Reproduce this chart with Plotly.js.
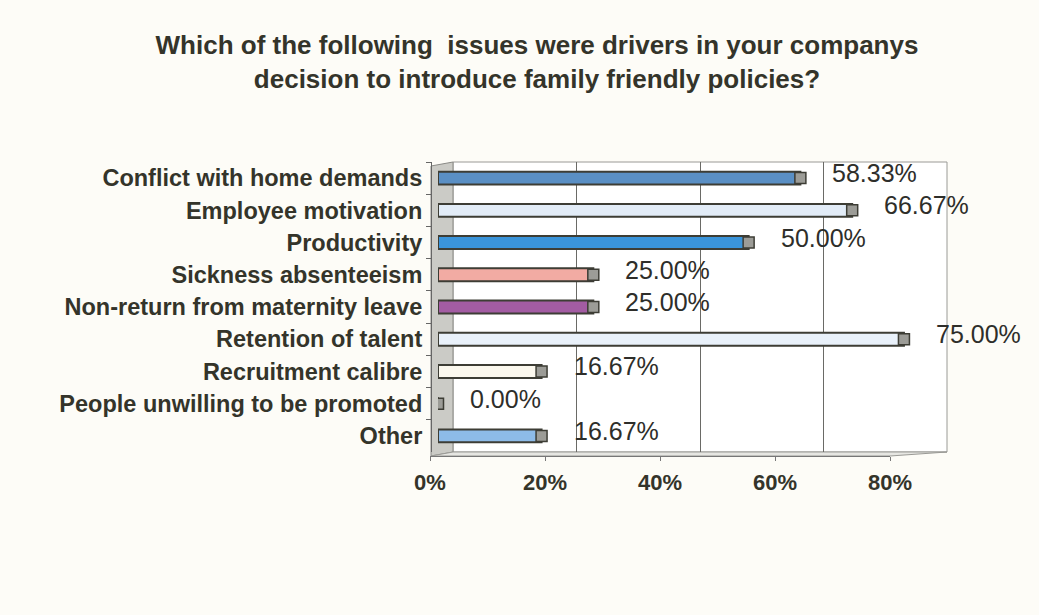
<!DOCTYPE html>
<html>
<head>
<meta charset="utf-8">
<script src="https://cdn.plot.ly/plotly-3.0.1.min.js"></script>
<style>
  html, body { margin: 0; padding: 0; background: #fdfcf7; }
  #chart { width: 1039px; height: 615px; }
</style>
</head>
<body>
<div id="chart"></div>
<script>
// Survey answers (share of companies)
const CATEGORIES = [
    'Conflict with home demands',
    'Employee motivation',
    'Productivity',
    'Sickness absenteeism',
    'Non-return from maternity leave',
    'Retention of talent',
    'Recruitment calibre',
    'People unwilling to be promoted',
    'Other'
];
const VALUES = [0.5833, 0.6667, 0.50, 0.25, 0.25, 0.75, 0.1667, 0.0, 0.1667];
const TICK_VALUES = [0, 0.2, 0.4, 0.6, 0.8];

// one fill per bar, like the old spreadsheet chart
const BAR_COLORS = ['#5a8fc4', '#e2ecf7', '#3a94da', '#f2aba3', '#a35ca3',
                    '#e9f1fa', '#fbf8ee', '#8a8a86', '#8dbbe8'];

const W = 1039, TOP = 162, BOTTOM = 456;
const px = x => x / W;
const py = y => (BOTTOM - y) / (BOTTOM - TOP);

const INK = '#34342a';
const FONT = 'Liberation Sans, Arial, sans-serif';

// invisible helper so an axis gets drawn
function ghost(xa) {
    return { type: 'scatter', mode: 'none', x: VALUES, y: CATEGORIES,
             xaxis: xa, yaxis: 'y', hoverinfo: 'skip' };
}

const traces = [
    ghost('x'),
    ghost('x3'),
    {
        type: 'bar',
        orientation: 'h',
        x: VALUES,
        y: CATEGORIES,
        xaxis: 'x2',
        yaxis: 'y',
        marker: {
            color: BAR_COLORS,
            line: { color: '#3d3d35', width: 2 }
        },
        hoverinfo: 'x+y'
    },
    // grey end faces of the 3-D bars
    {
        type: 'scatter',
        mode: 'markers',
        x: VALUES,
        y: CATEGORIES,
        xaxis: 'x2',
        yaxis: 'y',
        marker: {
            symbol: 'square',
            size: 11,
            color: '#9c9c97',
            line: { color: '#3d3d35', width: 1.5 }
        },
        hoverinfo: 'skip'
    }
];

const annotations = VALUES.map((v, i) => ({
    x: v,
    y: CATEGORIES[i],
    xref: 'x2',
    yref: 'y',
    text: (v * 100).toFixed(2) + '%',
    showarrow: false,
    xanchor: 'left',
    xshift: 30,
    yshift: 5,
    font: { family: FONT, size: 25, color: '#2e2e2a' }
}));

const layout = {
    width: W,
    height: 615,
    paper_bgcolor: '#fdfcf7',
    plot_bgcolor: 'rgba(0,0,0,0)',
    showlegend: false,
    bargap: 0.6,
    margin: { l: 0, r: 0, t: TOP, b: 615 - BOTTOM },
    title: {
        text: 'Which of the following  issues were drivers in your companys<br>decision to introduce family friendly policies?',
        x: 537 / W,
        xanchor: 'center',
        yref: 'container',
        y: 1 - 54 / 615,
        yanchor: 'top',
        font: { family: FONT, size: 26, color: INK, weight: 'bold' }
    },
    // back wall grid
    xaxis: {
        domain: [px(453), px(947)],
        range: [0, 0.8],
        anchor: 'y',
        tickvals: TICK_VALUES,
        showgrid: true,
        gridcolor: '#6a6a66',
        gridwidth: 1,
        showticklabels: false,
        zeroline: false,
        showline: false,
        ticks: ''
    },
    // bars
    xaxis2: {
        domain: [px(438), px(935)],
        range: [0, 0.8],
        anchor: 'y',
        showgrid: false,
        showticklabels: false,
        zeroline: false,
        showline: false,
        ticks: ''
    },
    // front axis with the percent labels
    xaxis3: {
        domain: [px(430), px(890)],
        range: [0, 0.8],
        anchor: 'free',
        position: 0,
        tickvals: TICK_VALUES,
        tickformat: '.0%',
        showgrid: false,
        zeroline: false,
        showline: true,
        linecolor: '#777',
        ticks: 'outside',
        ticklen: 4,
        tickcolor: '#777',
        ticklabelstandoff: 3,
        tickfont: { family: FONT, size: 22, color: INK, weight: 'bold' }
    },
    yaxis: {
        domain: [py(452), 1],
        type: 'category',
        range: [CATEGORIES.length - 0.5, -0.5],
        autorange: false,
        anchor: 'free',
        position: px(431),
        showgrid: false,
        zeroline: false,
        showline: true,
        linecolor: '#666',
        ticks: 'outside',
        tickson: 'boundaries',
        ticklen: 5,
        tickcolor: '#666',
        ticklabelstandoff: 4,
        tickfont: { family: FONT, size: 23.5, color: INK, weight: 'bold' }
    },
    shapes: [
        // back wall
        {
            type: 'rect', xref: 'paper', yref: 'paper', layer: 'below',
            x0: px(453), x1: px(947), y0: py(452), y1: py(TOP),
            fillcolor: '#ffffff', line: { color: '#9a9a96', width: 1 }
        },
        // left side wall
        {
            type: 'path', xref: 'paper', yref: 'paper', layer: 'below',
            path: `M ${px(431)} ${py(456)} L ${px(453)} ${py(452)} L ${px(453)} ${py(TOP)} L ${px(431)} ${py(166)} Z`,
            fillcolor: '#cbcbc6', line: { color: '#8a8a86', width: 1 }
        },
        // floor
        {
            type: 'path', xref: 'paper', yref: 'paper', layer: 'below',
            path: `M ${px(431)} ${py(456)} L ${px(453)} ${py(452)} L ${px(947)} ${py(452)} L ${px(890)} ${py(456)} Z`,
            fillcolor: '#e6e6e2', line: { color: '#9a9a96', width: 1 }
        }
    ],
    annotations: annotations
};

Plotly.newPlot('chart', traces, layout, { displayModeBar: false, staticPlot: true });
</script>
</body>
</html>
